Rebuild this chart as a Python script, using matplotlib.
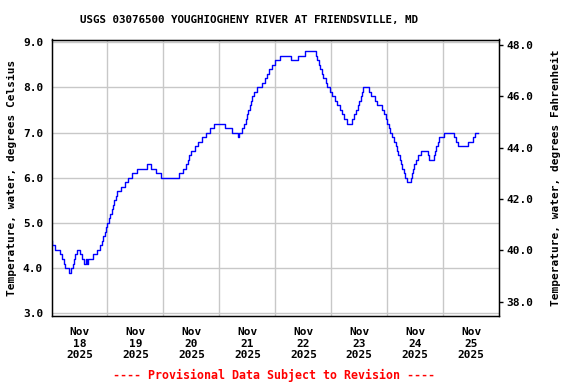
import matplotlib
matplotlib.use("Agg")
import matplotlib.pyplot as plt
import numpy as np

# Breakpoints: hours since 2025-11-18 00:00, water temperature (deg C)
hours = [0, 0.25, 1.5, 3.5, 4.5, 5.25, 6.0, 7.5, 8.5, 9.25, 9.75, 10.25, 11.0,
         12.25, 13.25, 13.75, 15.0, 15.25, 15.5, 18.0, 19.5, 20.75, 21.75, 22.25,
         22.75, 23.25, 23.75, 24.5, 25.0, 25.75, 26.25, 26.75, 27.5, 28.25, 30.0,
         31.5, 33.0, 34.5, 36.5, 40.75, 42.5, 44.75, 46.75, 54.75, 56.25, 57.5,
         58.5, 59.0, 59.75, 61.5, 63.0, 64.5, 66.25, 68.0, 69.75, 74.5, 77.25,
         79.75, 80.5, 81.5, 82.5, 83.25, 83.75, 84.25, 85.0, 85.5, 86.0, 86.75,
         88.0, 90.25, 91.75, 92.5, 93.25, 94.5, 95.75, 98.0, 102.5, 105.75,
         108.75, 113.5, 114.0, 114.5, 115.25, 116.0, 116.5, 117.5, 118.25, 119.5,
         120.25, 121.5, 122.25, 123.5, 124.5, 125.5, 126.5, 129.0, 129.75, 130.5,
         131.25, 131.75, 132.5, 133.0, 133.75, 136.25, 137.0, 138.5, 139.75,
         141.75, 142.75, 143.25, 143.75, 144.5, 145.25, 146.0, 146.75, 147.5,
         148.25, 148.75, 149.25, 149.75, 150.25, 151.0, 151.75, 152.25, 154.0,
         154.5, 155.0, 155.5, 156.25, 157.0, 158.5, 161.25, 162.0, 164.0, 164.5,
         165.0, 165.75, 166.25, 168.25, 172.5, 173.5, 174.25, 178.5, 180.75,
         181.75, 182.75]
temps = [4.6, 4.5, 4.4, 4.3, 4.2, 4.1, 4.0, 3.9, 4.0, 4.1, 4.2, 4.3, 4.4,
         4.3, 4.2, 4.1, 4.2, 4.1, 4.2, 4.3, 4.4, 4.5, 4.6, 4.7,
         4.8, 4.9, 5.0, 5.1, 5.2, 5.3, 5.4, 5.5, 5.6, 5.7, 5.8,
         5.9, 6.0, 6.1, 6.2, 6.3, 6.2, 6.1, 6.0, 6.1, 6.2, 6.3,
         6.4, 6.5, 6.6, 6.7, 6.8, 6.9, 7.0, 7.1, 7.2, 7.1, 7.0,
         6.9, 7.0, 7.1, 7.2, 7.3, 7.4, 7.5, 7.6, 7.7, 7.8, 7.9,
         8.0, 8.1, 8.2, 8.3, 8.4, 8.5, 8.6, 8.7, 8.6, 8.7,
         8.8, 8.7, 8.6, 8.5, 8.4, 8.3, 8.2, 8.1, 8.0, 7.9,
         7.8, 7.7, 7.6, 7.5, 7.4, 7.3, 7.2, 7.3, 7.4, 7.5,
         7.6, 7.7, 7.8, 7.9, 8.0, 7.9, 7.8, 7.7, 7.6,
         7.5, 7.4, 7.3, 7.2, 7.1, 7.0, 6.9, 6.8, 6.7,
         6.6, 6.5, 6.4, 6.3, 6.2, 6.1, 6.0, 5.9, 6.0,
         6.1, 6.2, 6.3, 6.4, 6.5, 6.6, 6.5, 6.4, 6.5, 6.6,
         6.7, 6.8, 6.9, 7.0, 6.9, 6.8, 6.7, 6.8, 6.9,
         7.0, 7.0]

day_labels = ["Nov\n18\n2025", "Nov\n19\n2025", "Nov\n20\n2025", "Nov\n21\n2025",
              "Nov\n22\n2025", "Nov\n23\n2025", "Nov\n24\n2025", "Nov\n25\n2025"]
c_ticks = [3.0, 4.0, 5.0, 6.0, 7.0, 8.0, 9.0]
f_ticks = [38.0, 40.0, 42.0, 44.0, 46.0, 48.0]

title = "USGS 03076500 YOUGHIOGHENY RIVER AT FRIENDSVILLE, MD"
ylabel_left = "Temperature, water, degrees Celsius"
ylabel_right = "Temperature, water, degrees Fahrenheit"
footer = "---- Provisional Data Subject to Revision ----"

FONT = "DejaVu Sans Mono"
W, H = 576, 384
fig = plt.figure(figsize=(W / 100, H / 100), dpi=100)
ax = fig.add_axes([51.5 / W, 1 - 316 / H, (499.3 - 51.5) / W, (316 - 39.5) / H])

x_days = np.array(hours) / 24.0
ax.plot(x_days, temps, drawstyle="steps-post", color="#0000ff", lw=1.0, zorder=3)

ax.set_xlim(0, 8)
ax.set_ylim(2.938, 9.06)
ax.set_yticks(c_ticks)
ax.set_yticklabels([f"{v:.1f}" for v in c_ticks], fontfamily=FONT, fontweight="bold", fontsize=8)
ax.set_xticks(np.arange(len(day_labels)) + 0.5)
ax.set_xticklabels(day_labels, fontfamily=FONT, fontweight="bold", fontsize=8, linespacing=1.2)
ax.tick_params(axis="y", length=0, pad=6)
ax.tick_params(axis="x", which="both", length=0, pad=8)
ax.grid(False)
for v in c_ticks:
    ax.axhline(v, color="#c8c8c8", lw=1.0, zorder=1)
for d in range(1, 8):
    ax.axvline(d, color="#c8c8c8", lw=1.0, zorder=1)
for s in ax.spines.values():
    s.set_color("black")
    s.set_linewidth(1.0)
ax.set_ylabel(ylabel_left, fontfamily=FONT, fontweight="bold", fontsize=8, labelpad=4.5)

ax2 = ax.twinx()
ax2.set_ylim(37.44, 48.21)
ax2.set_yticks(f_ticks)
ax2.set_yticklabels([f"{v:.1f}" for v in f_ticks], fontfamily=FONT, fontweight="bold", fontsize=8)
ax2.tick_params(axis="y", length=3, width=1, pad=2, color="black")
ax2.set_ylabel(ylabel_right, fontfamily=FONT, fontweight="bold", fontsize=8, labelpad=13)

fig.text(249 / W, 1 - 20 / H, title, ha="center", va="center",
         fontfamily=FONT, fontweight="bold", fontsize=7.8)
fig.text(274 / W, 1 - 375 / H, footer, ha="center", va="center",
         fontfamily=FONT, fontweight="bold", fontsize=8.4, color="#ff0000")

fig.savefig("out.png", dpi=100)
